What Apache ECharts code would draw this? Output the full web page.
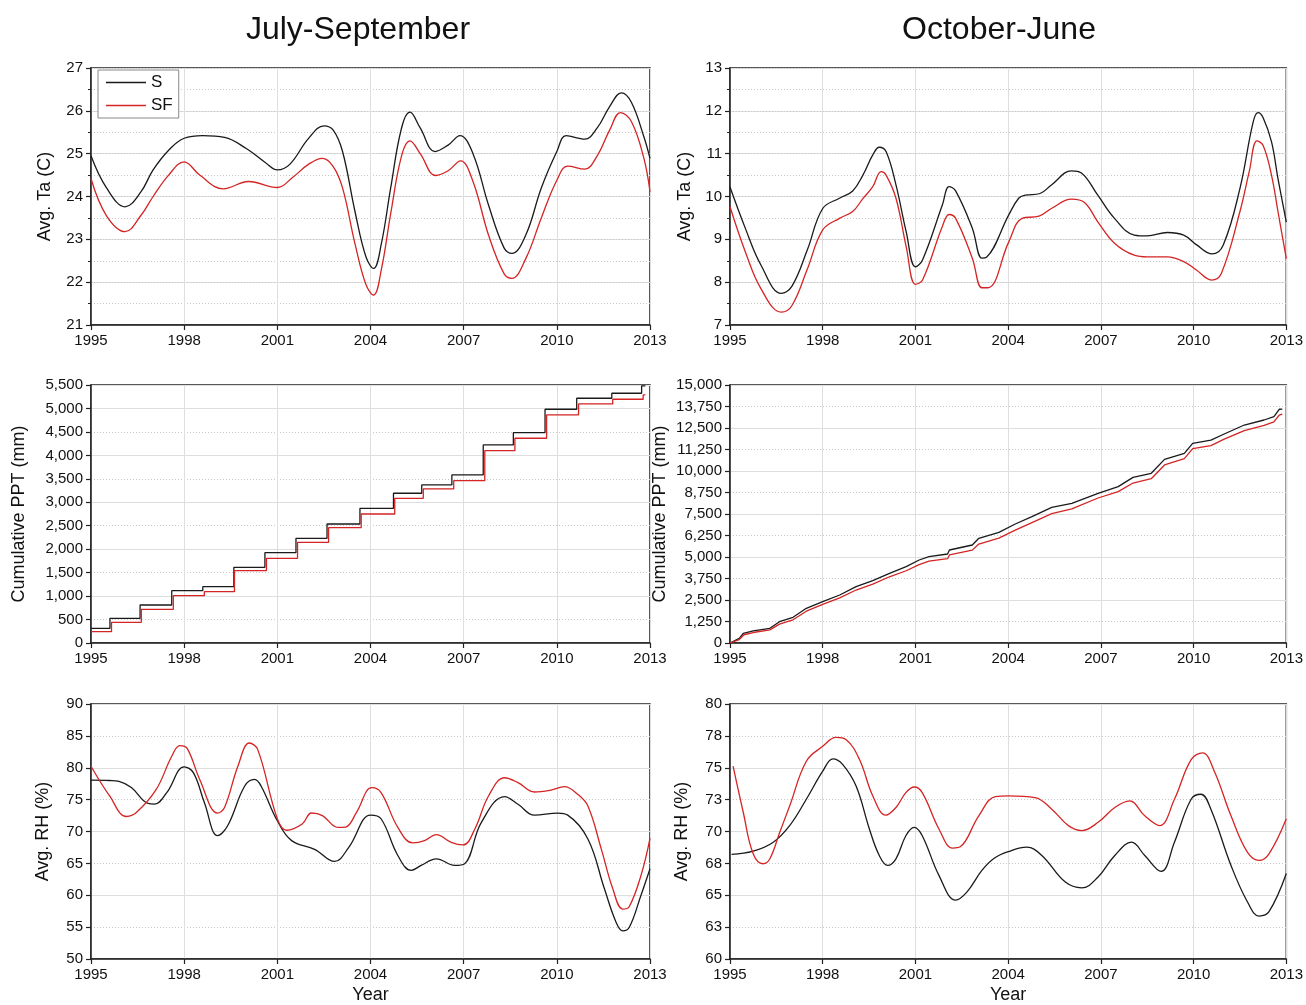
<!DOCTYPE html>
<html>
<head>
<meta charset="utf-8">
<script src="https://cdn.jsdelivr.net/npm/echarts@6/dist/echarts.min.js"></script>
<style>
  html, body { margin: 0; padding: 0; background: #fff; }
  #chart { width: 1306px; height: 1005px; }
</style>
</head>
<body>
<div id="chart"></div>
<script>
// values: [year, value]
const taSummerS = [[1995.0,24.95],[1995.5,24.2],[1996.1,23.76],[1996.6,24.1],[1997.0,24.62],[1997.5,25.08],[1998.0,25.36],[1998.6,25.42],[1999.3,25.38],[2000.0,25.12],[2000.6,24.8],[2001.0,24.62],[2001.4,24.75],[2002.0,25.35],[2002.5,25.65],[2002.8,25.55],[2003.1,25.05],[2003.5,23.65],[2003.85,22.6],[2004.1,22.32],[2004.35,22.9],[2004.65,24.2],[2005.0,25.6],[2005.27,25.97],[2005.6,25.6],[2006.08,25.05],[2006.5,25.2],[2006.88,25.42],[2007.3,25.0],[2007.8,23.8],[2008.3,22.8],[2008.55,22.67],[2009.0,23.1],[2009.5,24.2],[2010.0,25.05],[2010.3,25.42],[2010.9,25.34],[2011.3,25.6],[2011.7,26.1],[2012.08,26.42],[2012.4,26.2],[2012.8,25.4],[2013.0,24.89]];
const taSummerSF = [[1995.0,24.42],[1995.5,23.55],[1996.1,23.18],[1996.6,23.55],[1997.0,24.0],[1997.5,24.5],[1998.0,24.81],[1998.5,24.5],[1999.26,24.18],[2000.07,24.35],[2001.0,24.21],[2001.5,24.45],[2002.0,24.75],[2002.45,24.89],[2002.8,24.7],[2003.1,24.2],[2003.5,22.9],[2003.85,21.95],[2004.1,21.7],[2004.35,22.3],[2004.65,23.6],[2005.0,24.95],[2005.27,25.3],[2005.6,25.0],[2006.1,24.49],[2006.5,24.6],[2006.9,24.83],[2007.3,24.35],[2007.8,23.1],[2008.3,22.2],[2008.55,22.09],[2009.0,22.55],[2009.5,23.5],[2010.0,24.38],[2010.35,24.71],[2010.9,24.64],[2011.3,24.95],[2011.7,25.55],[2012.05,25.96],[2012.4,25.75],[2012.8,24.9],[2013.0,24.11]];

const taWinterS = [[1995.0,10.22],[1995.5,9.25],[1996.0,8.4],[1996.66,7.74],[1997.0,7.9],[1997.5,8.75],[1998.0,9.72],[1998.54,9.96],[1998.97,10.13],[1999.3,10.5],[1999.62,10.97],[1999.83,11.15],[2000.05,11.05],[2000.37,10.27],[2000.7,9.18],[2001.0,8.36],[2001.23,8.52],[2001.87,9.8],[2002.09,10.23],[2002.3,10.13],[2002.84,9.26],[2003.15,8.56],[2003.3,8.58],[2004.02,9.57],[2004.34,9.96],[2004.55,10.03],[2005.03,10.07],[2005.4,10.27],[2006.05,10.6],[2006.37,10.55],[2006.9,10.03],[2007.44,9.49],[2008.08,9.1],[2008.5,9.08],[2009.15,9.16],[2009.68,9.1],[2010.1,8.87],[2010.6,8.66],[2010.96,8.87],[2011.5,10.19],[2011.93,11.75],[2012.09,11.96],[2012.25,11.84],[2012.52,11.28],[2012.73,10.42],[2013.0,9.4]];
const taWinterSF = [[1995.0,9.76],[1995.5,8.7],[1996.0,7.85],[1996.66,7.3],[1997.0,7.45],[1997.5,8.3],[1998.0,9.22],[1998.54,9.49],[1998.97,9.65],[1999.3,9.95],[1999.62,10.23],[1999.89,10.58],[2000.05,10.5],[2000.37,9.96],[2000.7,8.83],[2001.0,7.95],[2001.23,8.05],[2001.87,9.3],[2002.09,9.58],[2002.3,9.49],[2002.84,8.56],[2003.15,7.87],[2003.35,7.87],[2004.02,8.94],[2004.45,9.49],[2005.0,9.54],[2005.4,9.72],[2006.05,9.94],[2006.47,9.86],[2006.9,9.41],[2007.44,8.91],[2008.08,8.63],[2008.5,8.59],[2009.15,8.59],[2009.68,8.48],[2010.1,8.28],[2010.58,8.05],[2010.9,8.21],[2011.5,9.65],[2011.8,10.58],[2012.05,11.3],[2012.25,11.19],[2012.52,10.5],[2012.73,9.65],[2013.0,8.55]];

const pptSummerS = [[1995.0,313],[1995.61,527],[1996.58,810],[1997.6,1115],[1998.6,1200],[1999.6,1614],[2000.6,1925],[2001.6,2232],[2002.6,2537],[2003.66,2872],[2004.74,3192],[2005.65,3369],[2006.62,3582],[2007.63,4222],[2008.6,4484],[2009.62,4983],[2010.64,5218],[2011.77,5324],[2012.73,5480],[2012.85,5480]];
const pptSummerSF = [[1995.0,241],[1995.66,441],[1996.62,718],[1997.65,1009],[1998.65,1094],[1999.62,1542],[2000.65,1806],[2001.65,2147],[2002.65,2459],[2003.7,2750],[2004.78,3085],[2005.7,3284],[2006.68,3461],[2007.68,4100],[2008.65,4365],[2009.67,4861],[2010.7,5096],[2011.8,5196],[2012.78,5288],[2012.85,5288]];

const pptWinterS = [[1995.0,0],[1995.3,270],[1995.43,560],[1995.75,700],[1996.29,854],[1996.6,1240],[1997.04,1494],[1997.47,2017],[1998.0,2400],[1998.55,2790],[1999.08,3273],[1999.62,3622],[2000.16,4050],[2000.7,4436],[2001.12,4826],[2001.44,5017],[2002.04,5174],[2002.1,5407],[2002.84,5698],[2003.05,6087],[2003.7,6436],[2004.23,6919],[2004.77,7345],[2005.41,7888],[2006.06,8120],[2006.91,8701],[2007.56,9089],[2008.04,9632],[2008.63,9865],[2009.06,10678],[2009.7,11026],[2009.97,11607],[2010.56,11800],[2010.99,12150],[2011.64,12674],[2012.28,12965],[2012.6,13159],[2012.77,13589],[2012.87,13600]];
const pptWinterSF = [[1995.0,0],[1995.3,200],[1995.45,480],[1995.75,610],[1996.29,760],[1996.6,1100],[1997.04,1350],[1997.47,1850],[1998.0,2250],[1998.55,2620],[1999.08,3080],[1999.62,3420],[2000.16,3850],[2000.7,4200],[2001.12,4560],[2001.44,4760],[2002.04,4900],[2002.1,5120],[2002.84,5400],[2003.05,5750],[2003.7,6100],[2004.23,6560],[2004.77,7000],[2005.41,7520],[2006.06,7800],[2006.91,8430],[2007.56,8800],[2008.04,9300],[2008.63,9550],[2009.06,10350],[2009.7,10720],[2009.97,11300],[2010.56,11480],[2010.99,11850],[2011.64,12350],[2012.28,12650],[2012.6,12850],[2012.77,13250],[2012.87,13300]];

const rhSummerS = [[1995.0,78.06],[1995.6,78.0],[1995.9,77.86],[1996.3,76.9],[1996.84,74.4],[1997.05,74.3],[1997.44,76.1],[1998.0,80.15],[1998.3,79.2],[1998.65,74.54],[1999.08,69.35],[1999.4,70.9],[1999.95,77.13],[2000.27,78.17],[2000.48,77.1],[2001.0,71.68],[2001.46,68.57],[2002.2,67.2],[2002.84,65.3],[2003.3,67.5],[2004.0,72.57],[2004.34,72.0],[2004.88,66.24],[2005.31,63.9],[2005.63,64.68],[2006.12,65.72],[2006.71,64.68],[2007.03,64.94],[2007.57,71.43],[2008.32,75.48],[2008.75,74.28],[2009.28,72.57],[2010.03,72.88],[2010.35,72.57],[2011.0,68.83],[2011.53,61.05],[2011.9,55.86],[2012.12,54.41],[2012.33,54.93],[2012.71,60.0],[2013.0,64.16]];
const rhSummerSF = [[1995.0,80.24],[1995.6,75.57],[1996.14,72.35],[1996.46,72.97],[1997.1,76.6],[1997.6,81.8],[1997.86,83.46],[1998.1,83.0],[1998.5,78.17],[1999.08,72.88],[1999.3,73.77],[1999.73,80.24],[2000.1,83.88],[2000.37,82.84],[2001.0,72.0],[2001.3,70.2],[2001.8,71.17],[2002.1,72.9],[2002.45,72.5],[2002.95,70.65],[2003.2,70.7],[2003.55,73.0],[2004.04,76.87],[2004.34,76.1],[2004.88,70.65],[2005.36,68.21],[2005.74,68.57],[2006.12,69.5],[2006.6,68.3],[2006.98,67.9],[2007.36,70.39],[2007.8,75.57],[2008.32,78.43],[2008.75,77.66],[2009.28,76.2],[2009.81,76.5],[2010.24,77.03],[2010.67,75.84],[2011.0,74.0],[2011.43,67.28],[2011.8,61.05],[2012.12,57.83],[2012.33,58.2],[2012.71,63.12],[2013.0,68.94]];

const rhWinterS = [[1995.05,68.2],[1995.75,68.46],[1996.4,69.16],[1996.93,70.46],[1997.47,72.53],[1998.0,74.73],[1998.33,75.7],[1998.65,75.25],[1999.08,73.56],[1999.51,70.2],[1999.83,68.12],[2000.1,67.34],[2000.37,67.86],[2000.69,69.67],[2000.96,70.32],[2001.22,69.67],[2001.76,66.56],[2002.3,64.62],[2002.67,65.27],[2003.15,66.95],[2003.55,67.9],[2004.02,68.43],[2004.6,68.77],[2005.09,68.12],[2005.84,66.05],[2006.38,65.58],[2006.91,66.43],[2007.45,68.12],[2007.99,69.16],[2008.42,68.12],[2008.95,66.87],[2009.38,69.16],[2009.92,72.53],[2010.24,72.92],[2010.56,71.75],[2011.21,67.34],[2011.74,64.49],[2012.12,63.37],[2012.44,63.71],[2013.0,66.7]];
const rhWinterSF = [[1995.1,75.12],[1995.43,71.49],[1995.75,68.25],[1996.07,67.47],[1996.29,67.86],[1996.61,69.94],[1996.93,72.0],[1997.47,75.51],[1998.0,76.68],[1998.43,77.38],[1998.76,77.2],[1999.19,75.64],[1999.62,72.79],[2000.04,71.28],[2000.37,71.88],[2000.69,73.05],[2000.96,73.49],[2001.22,73.05],[2001.76,70.2],[2002.2,68.7],[2002.45,68.8],[2003.05,71.23],[2003.59,72.74],[2004.02,72.79],[2004.87,72.66],[2005.41,71.75],[2005.95,70.46],[2006.38,70.07],[2006.91,70.72],[2007.45,71.88],[2007.93,72.4],[2008.42,71.23],[2008.9,70.46],[2009.38,72.53],[2009.92,75.64],[2010.29,76.16],[2010.67,74.73],[2011.21,71.23],[2011.74,68.38],[2012.12,67.73],[2012.44,68.25],[2013.0,71.0]];

const seasonTitles = ['July-September', 'October-June'];
const seriesNames = ['S', 'SF'];

const FONT = '"Liberation Sans", Arial, sans-serif';
const BLACK = '#1a1a1a';
const RED = '#d42424';

// one entry per panel, row by row
const panels = [
  { s: taSummerS, sf: taSummerSF, name: 'Avg. Ta (C)', min: 21, max: 27, step: 1, fine: 0.5, minor: true, gap: 37, kind: 'smooth' },
  { s: taWinterS, sf: taWinterSF, name: 'Avg. Ta (C)', min: 7, max: 13, step: 1, fine: 0.5, minor: true, gap: 36, kind: 'smooth' },
  { s: pptSummerS, sf: pptSummerSF, name: 'Cumulative PPT (mm)', min: 0, max: 5500, step: 500, solid: 1000, gap: 63, kind: 'step' },
  { s: pptWinterS, sf: pptWinterSF, name: 'Cumulative PPT (mm)', min: 0, max: 15000, step: 1250, solid: 2500, gap: 61, kind: 'line' },
  { s: rhSummerS, sf: rhSummerSF, name: 'Avg. RH (%)', min: 50, max: 90, step: 5, solid: 10, gap: 39, kind: 'smooth' },
  { s: rhWinterS, sf: rhWinterSF, name: 'Avg. RH (%)', min: 60, max: 80, step: 2.5, solid: 5, gap: 39, kind: 'smooth', round: true }
];

const boxes = [
  { left: 91, top: 68, width: 559, height: 257 },
  { left: 730, top: 68, width: 559, height: 257 },
  { left: 91, top: 385, width: 559, height: 258 },
  { left: 730, top: 385, width: 559, height: 258 },
  { left: 91, top: 704, width: 559, height: 257 },
  { left: 730, top: 704, width: 559, height: 257 }
];

const solidGrid = { show: true, lineStyle: { color: '#dedede', width: 1, type: 'solid' } };
const dottedGrid = { show: true, lineStyle: { color: '#c8c8c8', width: 1, type: [1, 2] } };

function fmt(p) {
  return function (v) {
    if (p.round) return String(Math.round(v));
    if (p.max >= 1000) return v.toLocaleString('en-US');
    return String(v);
  };
}

let grids = [], xAxes = [], yAxes = [], series = [];

panels.forEach(function (p, i) {
  grids.push(Object.assign({
    show: true, borderColor: '#222', borderWidth: 1.5, containLabel: false
  }, boxes[i]));

  let bottomRow = i >= 4;
  xAxes.push({
    type: 'value', gridIndex: i, min: 1995, max: 2013, interval: 3,
    name: bottomRow ? 'Year' : '', nameLocation: 'middle', nameGap: 27,
    nameTextStyle: { fontFamily: FONT, fontSize: 18, color: '#111' },
    axisLine: { show: true, onZero: false, lineStyle: { color: '#222', width: 1.5 } },
    axisTick: { show: true, inside: false, length: 5, lineStyle: { color: '#222', width: 1.2 } },
    axisLabel: { fontFamily: FONT, fontSize: 15, color: '#111', margin: 8, formatter: function (v) { return String(v); } },
    splitLine: solidGrid
  });

  // labelled axis
  yAxes.push({
    type: 'value', gridIndex: i, min: p.min, max: p.max, interval: p.step,
    name: p.name, nameLocation: 'middle', nameGap: p.gap,
    nameTextStyle: { fontFamily: FONT, fontSize: 18, color: '#111' },
    axisLine: { show: true, lineStyle: { color: '#222', width: 1.5 } },
    axisTick: { show: true, inside: false, length: 5, lineStyle: { color: '#222', width: 1.2 } },
    minorTick: { show: !!p.minor, splitNumber: 2, length: 3, lineStyle: { color: '#222', width: 1 } },
    axisLabel: { fontFamily: FONT, fontSize: 15, color: '#111', margin: 8, formatter: fmt(p) },
    splitLine: p.minor ? solidGrid : dottedGrid
  });
  // extra axis that only carries the second set of grid lines
  yAxes.push({
    type: 'value', gridIndex: i, min: p.min, max: p.max,
    interval: p.minor ? p.fine : p.solid,
    axisLine: { show: false }, axisTick: { show: false }, axisLabel: { show: false },
    splitLine: p.minor ? dottedGrid : solidGrid
  });

  [p.s, p.sf].forEach(function (d, k) {
    let col = k === 0 ? BLACK : RED;
    let ser = {
      type: 'line', name: seriesNames[k], data: d,
      xAxisIndex: i, yAxisIndex: 2 * i,
      showSymbol: false, symbol: 'none',
      lineStyle: { color: col, width: 1.3 },
      itemStyle: { color: col },
      z: 3 + k
    };
    if (p.kind === 'smooth') ser.smooth = 0.4;
    if (p.kind === 'step') ser.step = 'end';
    series.push(ser);
  });
});

let chart = echarts.init(document.getElementById('chart'), null, { renderer: 'canvas' });

chart.setOption({
  animation: false,
  backgroundColor: '#fff',
  textStyle: { fontFamily: FONT },
  grid: grids,
  xAxis: xAxes,
  yAxis: yAxes,
  legend: {
    data: seriesNames, left: 98, top: 70, orient: 'vertical',
    icon: 'rect', itemWidth: 40, itemHeight: 1.5, itemGap: 6,
    padding: [4, 6, 4, 8],
    borderColor: '#888', borderWidth: 1, backgroundColor: '#fff',
    textStyle: { fontFamily: FONT, fontSize: 17, color: '#111' },
    selectedMode: false
  },
  graphic: [
    { type: 'text', x: 358, y: 30, style: { text: seasonTitles[0], font: '32px ' + FONT, fill: '#111', textAlign: 'center', textVerticalAlign: 'middle' } },
    { type: 'text', x: 999, y: 30, style: { text: seasonTitles[1], font: '32px ' + FONT, fill: '#111', textAlign: 'center', textVerticalAlign: 'middle' } }
  ],
  series: series
});
</script>
</body>
</html>
